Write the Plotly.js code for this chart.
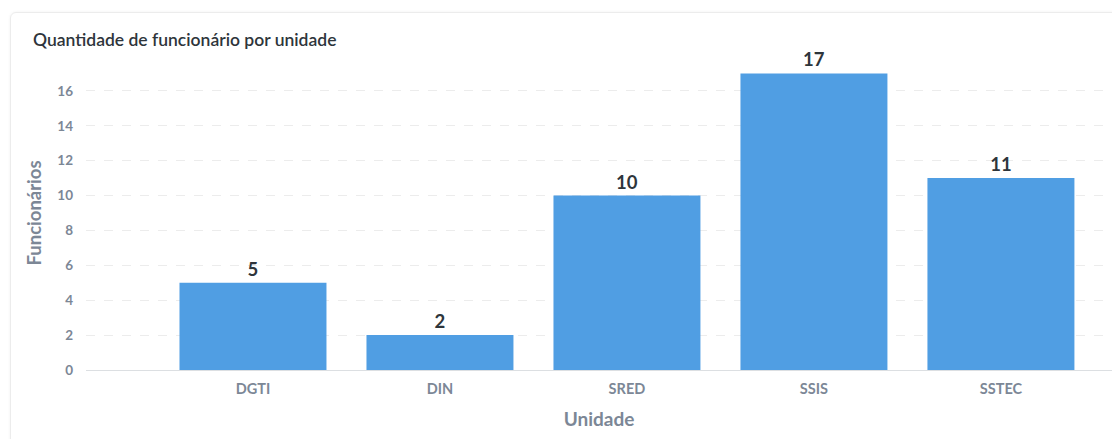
<!DOCTYPE html>
<html><head><meta charset="utf-8">
<script src="https://cdn.plot.ly/plotly-3.0.1.min.js"></script>
<style>
html,body{margin:0;padding:0;background:#fff;width:1112px;height:439px;overflow:hidden;}
#card{position:absolute;left:10px;top:12px;width:1120px;height:440px;border:1px solid #ececec;border-radius:6px;box-shadow:0 0 3px rgba(0,0,0,0.06);}
#chart{position:absolute;left:0;top:0;width:1112px;height:439px;}
</style></head>
<body>
<div id="card"></div>
<div id="chart"></div>
<script>
const chartTitle = "Quantidade de funcionário por unidade";
const categories = ["DGTI", "DIN", "SRED", "SSIS", "SSTEC"];
const funcionarios = [5, 2, 10, 17, 11];
const yTicks = [0, 2, 4, 6, 8, 10, 12, 14, 16];

const gray = "#7c8796";
Plotly.newPlot("chart", [{
  type: "bar",
  x: categories,
  y: funcionarios,
  width: 0.786,
  marker: {color: "#509ee3"},
  text: funcionarios.map(String),
  textposition: "outside",
  cliponaxis: false,
  textfont: {family: "Lato", size: 18.5, color: "#2e353b", weight: "bold"},
  hoverinfo: "x+y"
}], {
  width: 1112, height: 439,
  margin: {l: 86, r: 0, t: 56, b: 69},
  paper_bgcolor: "rgba(0,0,0,0)",
  plot_bgcolor: "rgba(0,0,0,0)",
  showlegend: false,
  annotations: [{
    text: chartTitle, xref: "paper", yref: "paper", x: -55/1026, y: 1 + 4/314,
    xanchor: "left", yanchor: "bottom", showarrow: false,
    font: {family: "Lato", size: 17.5, color: "#2e353b", weight: 600}
  }],
  xaxis: {
    type: "category",
    range: [-0.893, 4.594],
    showline: true, linecolor: "#dcdfe2", linewidth: 1,
    showgrid: false, ticks: "", zeroline: false,
    ticklabelstandoff: 6,
    tickfont: {family: "Lato", size: 14.5, color: gray, weight: "bold"},
    title: {text: "Unidade", standoff: 16, font: {family: "Lato", size: 19, color: gray, weight: "bold"}}
  },
  yaxis: {
    range: [0, 18],
    tickvals: yTicks,
    ticktext: yTicks.map(String),
    showgrid: true, gridcolor: "#ececec", griddash: "dash", gridwidth: 1,
    zeroline: false, showline: false, ticks: "",
    ticklabelstandoff: 12,
    tickfont: {family: "Lato", size: 13.5, color: gray, weight: "bold"},
    title: {text: "Funcionários", standoff: 10, font: {family: "Lato", size: 18.5, color: gray, weight: "bold"}}
  },
  bargap: 0.2
}, {displayModeBar: false, responsive: false});
</script>
</body></html>
